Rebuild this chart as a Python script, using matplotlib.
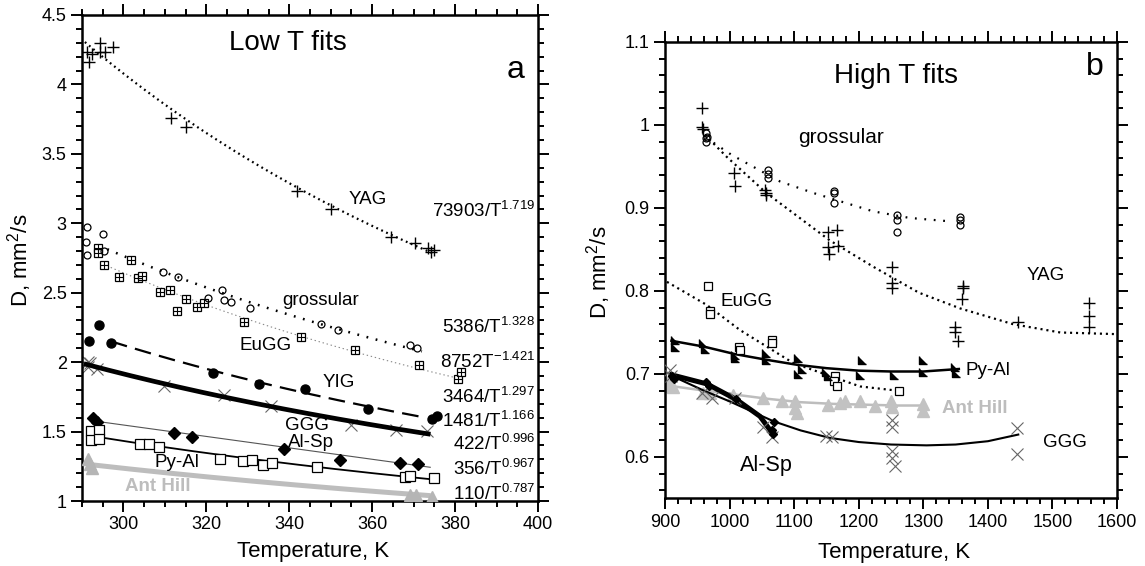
import numpy as np
import matplotlib
matplotlib.use("Agg")
import matplotlib.pyplot as plt
from matplotlib.ticker import MultipleLocator, FormatStrFormatter, FuncFormatter

plt.rcParams['font.family'] = ['Liberation Sans', 'DejaVu Sans']
plt.rcParams['mathtext.fontset'] = 'custom'
plt.rcParams['mathtext.rm'] = 'Liberation Sans'
plt.rcParams['mathtext.it'] = 'Liberation Sans:italic'
plt.rcParams['lines.scale_dashes'] = False

# ---------------- Panel a (low T) data ----------------
yag_lo_T = [291.2, 291.7, 292.5, 294.4, 294.4, 295.6, 297.5, 311.5, 315.2, 341.8, 350.0, 364.6, 370.4, 373.5, 374.3, 375.0]
yag_lo_D = [4.23, 4.16, 4.22, 4.30, 4.23, 4.23, 4.27, 3.76, 3.69, 3.23, 3.10, 2.90, 2.86, 2.82, 2.79, 2.81]

gro_lo_T = [291.3, 291.0, 291.1, 295.0, 295.3, 309.5, 313.2, 320.4, 323.8, 324.2, 326.0, 330.5, 347.6, 351.7, 369.0, 370.9]
gro_lo_D = [2.975, 2.865, 2.771, 2.922, 2.802, 2.651, 2.615, 2.459, 2.519, 2.447, 2.430, 2.392, 2.272, 2.231, 2.123, 2.099]

eugg_lo_T = [293.9, 293.9, 295.2, 299.0, 301.9, 303.4, 304.5, 308.9, 311.3, 312.8, 315.0, 317.7, 319.4, 329.1, 342.9, 355.9, 371.4, 380.7, 381.5]
eugg_lo_D = [2.819, 2.783, 2.699, 2.610, 2.735, 2.603, 2.620, 2.507, 2.519, 2.368, 2.452, 2.395, 2.428, 2.287, 2.179, 2.087, 1.979, 1.876, 1.927]

yig_lo_T = [291.7, 294.1, 297.0, 321.6, 332.7, 343.8, 358.9, 374.5, 375.6]
yig_lo_D = [2.154, 2.267, 2.135, 1.919, 1.842, 1.804, 1.662, 1.588, 1.612]

ggg_lo_T = [291.5, 291.5, 291.9, 293.6, 309.9, 324.2, 335.5, 354.9, 365.8, 373.3]
ggg_lo_D = [2.003, 1.967, 1.991, 1.948, 1.830, 1.763, 1.684, 1.547, 1.511, 1.504]

alsp_lo_T = [292.7, 293.6, 312.3, 316.6, 338.7, 352.3, 366.6, 371.0]
alsp_lo_D = [1.595, 1.571, 1.492, 1.459, 1.374, 1.295, 1.271, 1.264]

pyal_lo_T = [292.2, 294.2, 292.2, 294.2, 303.9, 306.1, 308.5, 323.2, 328.8, 330.9, 333.7, 335.8, 346.6, 367.8, 369.0, 374.8]
pyal_lo_D = [1.504, 1.511, 1.439, 1.444, 1.410, 1.410, 1.387, 1.302, 1.288, 1.295, 1.259, 1.276, 1.247, 1.175, 1.182, 1.163]

ant_lo_T = [291.5, 292.0, 292.5, 369.0, 370.5, 374.5]
ant_lo_D = [1.30, 1.27, 1.24, 1.045, 1.045, 1.03]

# power-law fits shown in panel a: D = C / T^n
fit_names = ['YAG', 'grossular', 'EuGG', 'YIG', 'GGG', 'Py-Al', 'Ant Hill']
fit_C = [73903, 5386, 8752, 3464, 1481, 356, 110]
fit_n = [1.719, 1.328, 1.421, 1.297, 1.166, 0.967, 0.787]
fit_Tmin = [290.7, 294.0, 296.0, 297.0, 291.0, 294.4, 293.0]
fit_Tmax = [375.0, 372.0, 381.0, 373.0, 373.5, 374.3, 373.5]
# Al-Sp line as drawn
alsp_lo_line_T = [294.0, 374.0]
alsp_lo_line_D = [1.572, 1.243]

fit_labels = ['73903/T$^{1.719}$', '5386/T$^{1.328}$', '8752T$^{-1.421}$', '3464/T$^{1.297}$',
              '1481/T$^{1.166}$', '422/T$^{0.996}$', '356/T$^{0.967}$', '110/T$^{0.787}$']
fit_label_D = [3.047, 2.208, 1.956, 1.704, 1.535, 1.367, 1.187, 1.007]

# ---------------- Panel b (high T) data ----------------
gro_hi_T = [963, 963, 963, 965, 1060, 1060, 1060, 1161, 1161, 1161, 1259, 1259, 1259, 1357, 1357, 1357]
gro_hi_D = [0.990, 0.984, 0.979, 0.986, 0.946, 0.941, 0.936, 0.921, 0.918, 0.906, 0.892, 0.886, 0.871, 0.889, 0.886, 0.880]

yag_hi_T = [958, 957, 959, 1007, 1008, 1055, 1056, 1057, 1153, 1166, 1153, 1154, 1168, 1252, 1251, 1252,
            1361, 1362, 1360, 1349, 1349, 1353, 1446, 1557, 1556, 1556]
yag_hi_D = [1.021, 0.998, 0.995, 0.942, 0.926, 0.922, 0.918, 0.916, 0.871, 0.873, 0.853, 0.845, 0.854, 0.829, 0.810, 0.804,
            0.804, 0.806, 0.790, 0.757, 0.751, 0.740, 0.763, 0.785, 0.770, 0.757]

eugg_hi_T = [966, 969, 969, 1015, 1016, 1065, 1065, 1163, 1162, 1166, 1262]
eugg_hi_D = [0.806, 0.776, 0.772, 0.732, 0.729, 0.741, 0.737, 0.697, 0.691, 0.686, 0.680]

pyal_hi_T = [915, 915, 959, 962, 1008, 1008, 1057, 1057, 1106, 1106, 1112, 1150, 1152, 1205, 1202, 1254, 1300, 1300, 1349, 1350]
pyal_hi_D = [0.741, 0.733, 0.737, 0.730, 0.723, 0.719, 0.725, 0.717, 0.719, 0.700, 0.706, 0.702, 0.697, 0.717, 0.699, 0.699, 0.717, 0.702, 0.709, 0.701]

ant_hi_T = [905, 908, 912, 959, 970, 1006, 1052, 1081, 1101, 1102, 1104, 1153, 1171, 1179, 1202, 1225, 1250, 1252, 1299, 1300]
ant_hi_D = [0.692, 0.686, 0.684, 0.677, 0.677, 0.675, 0.671, 0.667, 0.667, 0.659, 0.653, 0.663, 0.665, 0.667, 0.667, 0.661, 0.668, 0.660, 0.664, 0.656]

ggg_hi_T = [908, 910, 957, 972, 1008, 1052, 1065, 1150, 1158, 1251, 1251, 1251, 1251, 1256, 1445, 1445]
ggg_hi_D = [0.705, 0.698, 0.677, 0.671, 0.671, 0.636, 0.624, 0.625, 0.624, 0.645, 0.636, 0.607, 0.599, 0.589, 0.635, 0.603]

alsp_hi_T = [911, 914, 963, 968, 1010, 1068, 1065, 1067]
alsp_hi_D = [0.698, 0.694, 0.690, 0.686, 0.670, 0.642, 0.632, 0.628]

# fitted curves as drawn in panel b
gro_fit_T = [963, 1003, 1078, 1130, 1222, 1279, 1340]
gro_fit_D = [0.985, 0.964, 0.932, 0.918, 0.896, 0.888, 0.884]
yag_fit_T = [962, 995, 1057, 1155, 1223, 1293, 1357, 1439, 1512, 1600]
yag_fit_D = [0.988, 0.962, 0.918, 0.861, 0.829, 0.798, 0.779, 0.760, 0.750, 0.748]
eugg_fit_T = [903, 965, 1016, 1099, 1202, 1259]
eugg_fit_D = [0.811, 0.783, 0.753, 0.713, 0.685, 0.680]
pyal_fit_T = [910, 960, 1008, 1058, 1105, 1150, 1200, 1250, 1300, 1355]
pyal_fit_D = [0.740, 0.733, 0.724, 0.717, 0.711, 0.707, 0.704, 0.703, 0.703, 0.706]
ant_fit_T = [905, 960, 1010, 1060, 1110, 1160, 1210, 1260, 1300]
ant_fit_D = [0.686, 0.680, 0.675, 0.670, 0.666, 0.664, 0.663, 0.662, 0.662]
ggg_fit_T = [907, 960, 1000, 1068, 1110, 1155, 1200, 1250, 1305, 1350, 1400, 1447]
ggg_fit_D = [0.699, 0.680, 0.667, 0.643, 0.632, 0.623, 0.618, 0.615, 0.614, 0.615, 0.619, 0.627]
alsp_fit_T = [910, 965, 1011, 1047, 1065]
alsp_fit_D = [0.699, 0.688, 0.669, 0.649, 0.630]

# ---------------- Figure ----------------
fig = plt.figure(figsize=(11.45, 5.66), dpi=100)
axa = fig.add_axes([0.0716, 0.1148, 0.3983, 0.8587])
axb = fig.add_axes([0.5808, 0.1193, 0.3948, 0.8065])

GRAY = '#bdbdbd'
XGRAY = '#666666'

def style(ax):
    for s in ax.spines.values():
        s.set_linewidth(1.8)
    ax.tick_params(which='both', direction='out', top=True, right=True, width=1.4,
                   labelsize=13, pad=3)
    ax.tick_params(which='major', length=8)
    ax.tick_params(which='minor', length=4)

def boxplus(ax, T, D, ms=6):
    ax.plot(T, D, 's', ms=ms, mfc='white', mec='black', mew=0.9, ls='none', zorder=4)
    ax.plot(T, D, '+', ms=ms, mec='black', mew=0.8, ls='none', zorder=5)

# ---- panel a ----
ax = axa
lsty = {'YAG': dict(color='black', lw=1.6, ls=(0, (1.3, 2.6))),
        'grossular': dict(color='black', lw=1.8, ls=(0, (1.3, 5.5))),
        'EuGG': dict(color='#888888', lw=0.8, ls=(0, (1, 2))),
        'YIG': dict(color='black', lw=1.6, ls=(0, (12, 6))),
        'GGG': dict(color='black', lw=3.4, ls='-'),
        'Py-Al': dict(color='black', lw=1.3, ls='-'),
        'Ant Hill': dict(color=GRAY, lw=3.6, ls='-')}
for name, C, n, t0, t1 in zip(fit_names, fit_C, fit_n, fit_Tmin, fit_Tmax):
    T = np.linspace(t0, t1, 200)
    ax.plot(T, C / T ** n, zorder=3, **lsty[name])
ax.plot(alsp_lo_line_T, alsp_lo_line_D, color='#555555', lw=0.8, zorder=3)

ax.plot(yag_lo_T, yag_lo_D, '+', ms=9, mec='black', mew=1.0, ls='none', zorder=5)
ax.plot(gro_lo_T, gro_lo_D, 'o', ms=5, mfc='none', mec='black', mew=0.9, ls='none', zorder=5)
boxplus(ax, eugg_lo_T, eugg_lo_D)
ax.plot(yig_lo_T, yig_lo_D, 'o', ms=6.5, color='black', ls='none', zorder=5)
ax.plot(ggg_lo_T, ggg_lo_D, 'x', ms=8, mec=XGRAY, mew=0.8, ls='none', zorder=2)
ax.plot(alsp_lo_T, alsp_lo_D, 'D', ms=6, color='black', ls='none', zorder=5)
ax.plot(pyal_lo_T, pyal_lo_D, 's', ms=6.5, mfc='white', mec='black', mew=0.9, ls='none', zorder=5)
ax.plot(ant_lo_T, ant_lo_D, '^', ms=8, color='#b5b5b5', ls='none', zorder=5)

ax.set_xlim(290, 400)
ax.set_ylim(1, 4.5)
ax.xaxis.set_major_locator(MultipleLocator(20))
ax.xaxis.set_minor_locator(MultipleLocator(5))
ax.yaxis.set_major_locator(MultipleLocator(0.5))
ax.yaxis.set_minor_locator(MultipleLocator(0.1))
ax.xaxis.set_major_formatter(FuncFormatter(lambda v, p: '' if v < 295 else '%g' % v))
ax.yaxis.set_major_formatter(FuncFormatter(lambda v, p: '%g' % v))
style(ax)
ax.set_xlabel('Temperature, K', fontsize=16)
ax.set_ylabel('D, mm$^2$/s', fontsize=16)
ax.xaxis.set_label_coords(0.507, -0.083)
ax.yaxis.set_label_coords(-0.105, 0.496)

ax.text(339.7, 4.298, 'Low T fits', fontsize=20, ha='center', va='center')
ax.text(394.5, 4.104, 'a', fontsize=23, ha='center', va='center')
for lab, yb in zip(fit_labels, fit_label_D):
    ax.text(399.3, yb, lab, fontsize=13.5, ha='right', va='baseline', clip_on=False)
ax.text(354.2, 3.168, 'YAG', fontsize=13.5, ha='left', va='center')
ax.text(338.3, 2.447, 'grossular', fontsize=13.5, ha='left', va='center')
ax.text(328.1, 2.123, 'EuGG', fontsize=13.5, ha='left', va='center')
ax.text(348.1, 1.850, 'YIG', fontsize=13.5, ha='left', va='center')
ax.text(339.0, 1.547, 'GGG', fontsize=13.5, ha='left', va='center')
ax.text(339.7, 1.418, 'Al-Sp', fontsize=13.5, ha='left', va='center')
ax.text(307.6, 1.281, 'Py-Al', fontsize=13.5, ha='left', va='center')
ax.text(300.4, 1.101, 'Ant Hill', fontsize=13.5, ha='left', va='center', color=GRAY, fontweight='bold')

# ---- panel b ----
ax = axb
ax.plot(gro_fit_T, gro_fit_D, color='black', lw=1.6, ls=(0, (1.3, 5.5)), zorder=3)
ax.plot(yag_fit_T, yag_fit_D, color='black', lw=1.6, ls=(0, (1.5, 2.8)), zorder=3)
ax.plot(eugg_fit_T, eugg_fit_D, color='black', lw=1.6, ls=(0, (1.5, 2.8)), zorder=3)
ax.plot(pyal_fit_T, pyal_fit_D, color='black', lw=1.8, zorder=3)
ax.plot(ant_fit_T, ant_fit_D, color=GRAY, lw=1.8, zorder=2)
ax.plot(ggg_fit_T, ggg_fit_D, color='black', lw=1.5, zorder=3)
ax.plot(alsp_fit_T, alsp_fit_D, color='black', lw=3.6, zorder=3)

tri = [(-1, 1), (-1, -1), (1, -1)]
ax.plot(gro_hi_T, gro_hi_D, 'o', ms=5, mfc='none', mec='black', mew=0.9, ls='none', zorder=5)
ax.plot(yag_hi_T, yag_hi_D, '+', ms=9, mec='black', mew=1.0, ls='none', zorder=5)
ax.plot(eugg_hi_T, eugg_hi_D, 's', ms=6, mfc='white', mec='black', mew=0.9, ls='none', zorder=5)
ax.plot(pyal_hi_T, pyal_hi_D, marker=tri, ms=6, color='black', ls='none', zorder=5)
ax.plot(ant_hi_T, ant_hi_D, '^', ms=9, color='#c2c2c2', ls='none', zorder=2)
ax.plot(ggg_hi_T, ggg_hi_D, 'x', ms=8, mec=XGRAY, mew=0.8, ls='none', zorder=4)
ax.plot(alsp_hi_T, alsp_hi_D, 'D', ms=4.5, color='black', ls='none', zorder=5)

ax.set_xlim(900, 1600)
ax.set_ylim(0.55, 1.1)
ax.xaxis.set_major_locator(MultipleLocator(100))
ax.xaxis.set_minor_locator(MultipleLocator(20))
ax.yaxis.set_major_locator(MultipleLocator(0.1))
ax.yaxis.set_minor_locator(MultipleLocator(0.02))
ax.xaxis.set_major_formatter(FuncFormatter(lambda v, p: '%g' % v))
ax.yaxis.set_major_formatter(FuncFormatter(lambda v, p: '%g' % round(v, 2)))
style(ax)
ax.set_xlabel('Temperature, K', fontsize=16)
ax.set_ylabel('D, mm$^2$/s', fontsize=16)
ax.xaxis.set_label_coords(0.506, -0.095)
ax.yaxis.set_label_coords(-0.115, 0.496)

ax.text(1257.7, 1.059, 'High T fits', fontsize=20, ha='center', va='center')
ax.text(1566, 1.070, 'b', fontsize=23, ha='center', va='center')
ax.text(1106, 0.9855, 'grossular', fontsize=15, ha='left', va='center')
ax.text(1460.6, 0.819, 'YAG', fontsize=13.5, ha='left', va='center')
ax.text(985.2, 0.787, 'EuGG', fontsize=13.5, ha='left', va='center')
ax.text(1364.6, 0.7036, 'Py-Al', fontsize=13.5, ha='left', va='center')
ax.text(1329, 0.658, 'Ant Hill', fontsize=13.5, ha='left', va='center', color=GRAY, fontweight='bold')
ax.text(1485.4, 0.618, 'GGG', fontsize=13.5, ha='left', va='center')
ax.text(1016, 0.590, 'Al-Sp', fontsize=15.5, ha='left', va='center')

fig.savefig('out.png', dpi=100)
